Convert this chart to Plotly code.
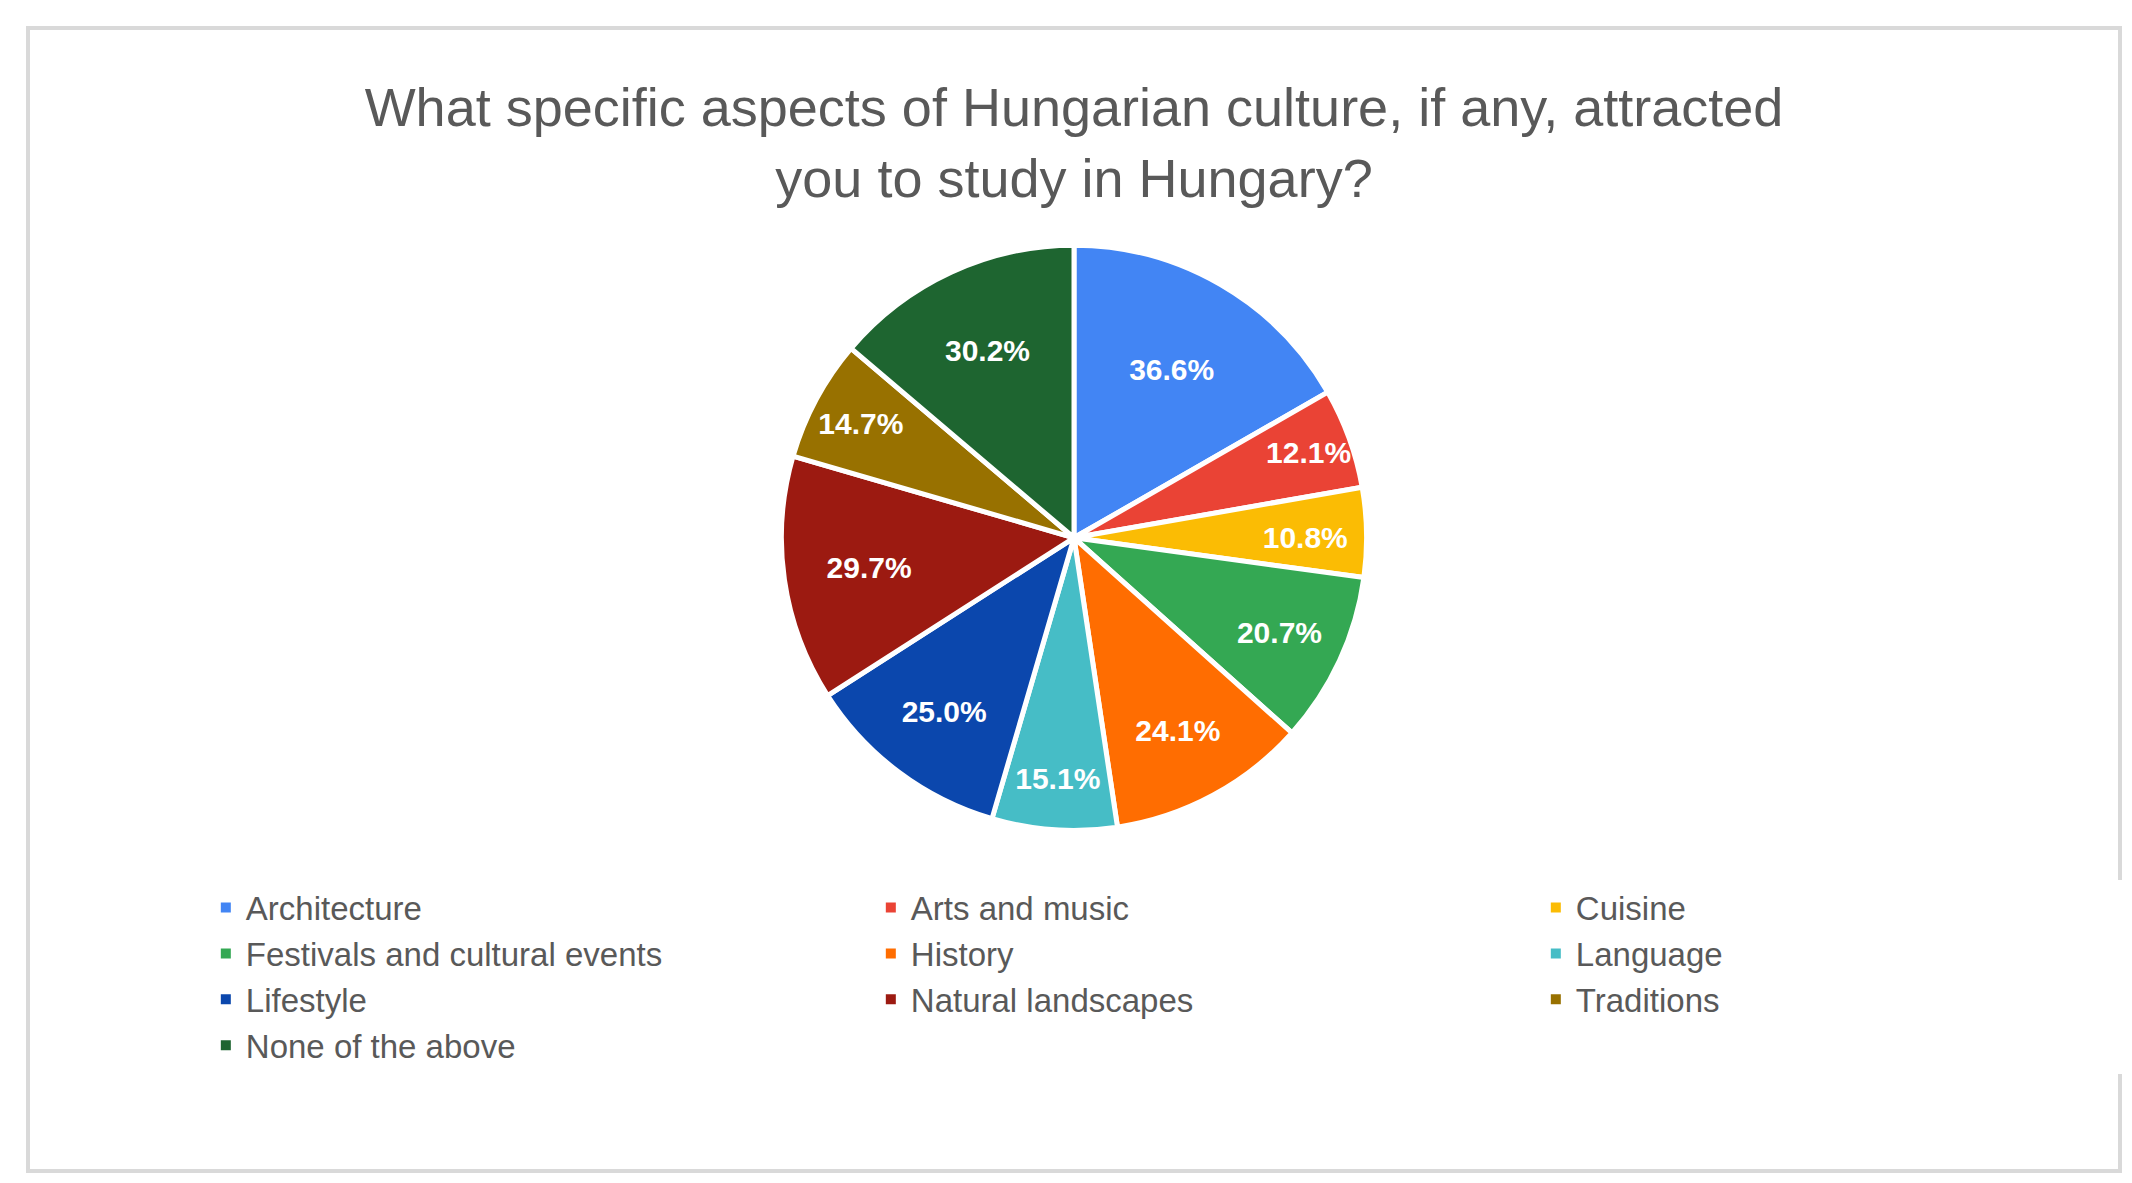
import plotly.graph_objects as go

categories = ["Architecture", "Arts and music", "Cuisine", "Festivals and cultural events",
              "History", "Language", "Lifestyle", "Natural landscapes", "Traditions",
              "None of the above"]
percent = [36.6, 12.1, 10.8, 20.7, 24.1, 15.1, 25.0, 29.7, 14.7, 30.2]
colors = ["#4285f4", "#ea4335", "#fbbc04", "#34a853", "#ff6d01",
          "#46bdc6", "#0b47ad", "#9c1a11", "#987100", "#1e6530"]

fig = go.Figure(go.Pie(
    labels=categories,
    values=percent,
    text=["<b>{:.1f}%</b>".format(p) for p in percent],
    textinfo="text",
    textposition="inside",
    insidetextorientation="horizontal",
    textfont=dict(family="Liberation Sans, Arial", size=30, color="white"),
    marker=dict(colors=colors, line=dict(color="white", width=5)),
    sort=False,
    direction="clockwise",
    rotation=0,
    domain=dict(x=[0.36, 0.64], y=[0.298, 0.81]),
    hoverinfo="label+text",
))

fig.update_layout(
    width=2132, height=1183,
    paper_bgcolor="white",
    margin=dict(l=20, r=20, t=20, b=20, autoexpand=False),
    uniformtext=dict(minsize=30, mode="show"),
    title=dict(
        text="What specific aspects of Hungarian culture, if any, attracted<br>you to study in Hungary?",
        x=0.5, xanchor="center", y=0.9, yanchor="middle",
        font=dict(family="Liberation Sans, Arial", size=54, color="#595959"),
    ),
    legend=dict(
        orientation="h", x=0.085, y=0.255, xanchor="left", yanchor="top",
        entrywidth=620, entrywidthmode="pixels",
        font=dict(family="Liberation Sans, Arial", size=33, color="#595959"),
        itemsizing="constant", tracegroupgap=20,
    ),
    shapes=[dict(type="rect", xref="paper", yref="paper", x0=0, x1=1, y0=0, y1=1,
                 line=dict(color="#d9d9d9", width=4))],
)

fig.write_html("out.html")
